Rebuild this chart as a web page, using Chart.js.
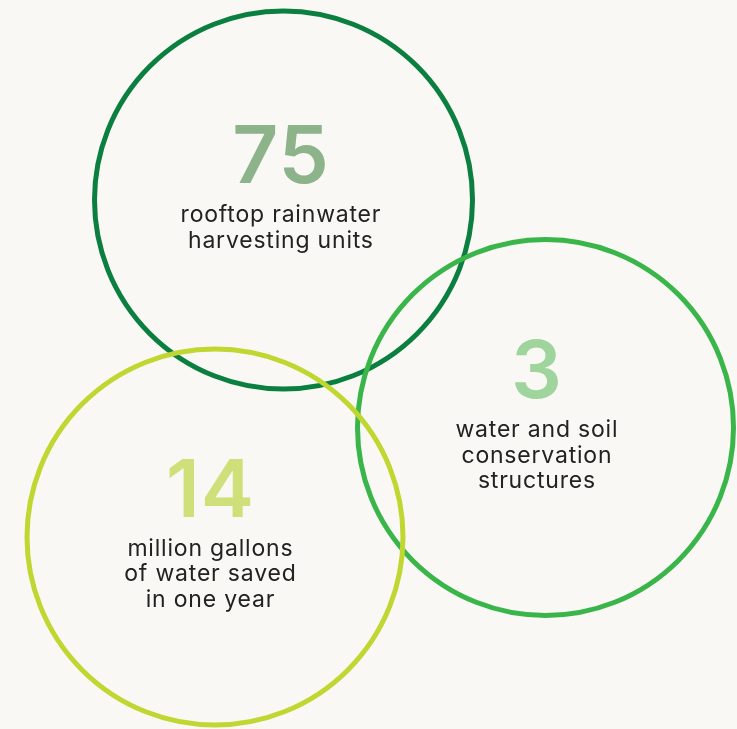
<!DOCTYPE html>
<html>
<head>
<meta charset="utf-8">
<script src="https://cdn.jsdelivr.net/npm/chart.js@4/dist/chart.umd.min.js"></script>
<style>
  html, body { margin: 0; padding: 0; background: #f9f8f4; }
  #wrap { width: 737px; height: 729px; position: relative; }
</style>
</head>
<body>
<div id="wrap"><canvas id="c"></canvas></div>
<script>
// ─── Data ────────────────────────────────────────────────────────────────────
const metricValues = [75, 3, 14];
const metricLabels = [
  ['rooftop rainwater', 'harvesting units'],
  ['water and soil', 'conservation', 'structures'],
  ['million gallons', 'of water saved', 'in one year'],
];
// bubble centres on a 737 x 729 canvas grid, radius in px
const bubbleX = [283.5, 545.5, 215];
const bubbleY = [200, 427.5, 537];
const bubbleR = [189, 188, 188];

const ringColors = ['#0b7f3f', '#39b54a', '#bfd730'];
const numberColors = ['#8db38a', '#9fd59c', '#cfe07a'];

// ─── Text inside the rings ───────────────────────────────────────────────────
const ringText = {
  id: 'ringText',
  afterDatasetsDraw(chart, args, opts) {
    const { ctx } = chart;
    const meta = chart.getDatasetMeta(0);
    meta.data.forEach((pt, i) => {
      const cx = pt.x + opts.dx[i];
      const base = pt.y + opts.dy[i];
      ctx.save();
      ctx.textAlign = 'center';
      ctx.textBaseline = 'alphabetic';
      ctx.fillStyle = numberColors[i];
      ctx.font = '600 80px Inter, "Noto Sans", sans-serif';
      ctx.letterSpacing = '1px';
      ctx.fillText(String(metricValues[i]), cx + 0.5, base);
      ctx.fillStyle = '#222222';
      ctx.font = '400 23px Inter, "Noto Sans", sans-serif';
      ctx.letterSpacing = '0.8px';
      metricLabels[i].forEach((line, j) => {
        ctx.fillText(line, cx + 0.4, base + 39 + j * 25.5);
      });
      ctx.restore();
    });
  },
};

new Chart(document.getElementById('c'), {
  type: 'bubble',
  data: {
    datasets: [{
      data: metricValues.map((v, i) => ({ x: bubbleX[i], y: bubbleY[i], r: bubbleR[i], v })),
      backgroundColor: 'rgba(0,0,0,0)',
      borderColor: ringColors,
      borderWidth: 5,
      hoverBorderWidth: 5,
      hoverRadius: 0,
      clip: false,
    }],
  },
  options: {
    responsive: true,
    maintainAspectRatio: false,
    animation: false,
    events: [],
    layout: { padding: 0, autoPadding: false },
    scales: {
      x: { display: false, min: 0, max: 737 },
      y: { display: false, min: 0, max: 729, reverse: true },
    },
    plugins: {
      legend: { display: false },
      tooltip: { enabled: false },
      ringText: { dx: [-3, -9, -5], dy: [-17, -29.5, -20.5] },
    },
  },
  plugins: [ringText],
});
</script>
</body>
</html>
